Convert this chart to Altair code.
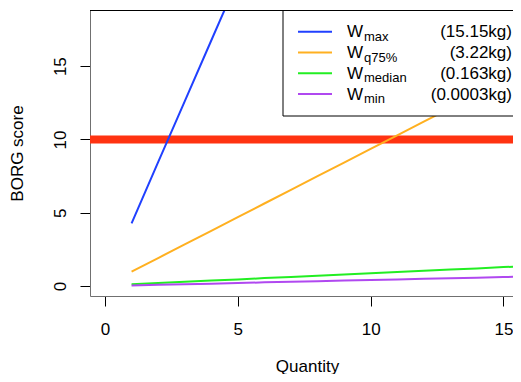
import altair as alt
import pandas as pd

# ---- data ----
quantity = list(range(1, 17))
w_max = [4.28, 8.45, 12.6, 16.75, 20.9]
w_q75 = [0.98, 1.91, 2.84, 3.77, 4.70, 5.63, 6.56, 7.49, 8.42, 9.35,
         10.28, 11.21, 12.14, 13.07, 14.00, 14.93]
w_median = [0.12, 0.20, 0.29, 0.37, 0.45, 0.54, 0.62, 0.70, 0.79, 0.87,
            0.95, 1.04, 1.12, 1.20, 1.29, 1.37]
w_min = [0.04, 0.08, 0.12, 0.16, 0.20, 0.25, 0.29, 0.33, 0.37, 0.41,
         0.45, 0.49, 0.53, 0.57, 0.61, 0.66]
threshold = [10]

series_names = ["W_max", "W_q75%", "W_median", "W_min"]
subscripts = ["max", "q75%", "median", "min"]
weights = ["(15.15kg)", "(3.22kg)", "(0.163kg)", "(0.0003kg)"]
colors = ["#2040FF", "#FFB020", "#22EE22", "#B048F0"]

x_ticks = [0, 5, 10, 15]
y_ticks = [0, 5, 10, 15]

FONT = "Liberation Sans"
W, H = 423, 286

rows = []
for name, vals in zip(series_names, [w_max, w_q75, w_median, w_min]):
    for q, v in zip(quantity, vals):
        rows.append({"series": name, "quantity": q, "borg": v})
df = pd.DataFrame(rows)

color_scale = alt.Scale(domain=series_names, range=colors)
x_scale = alt.Scale(domain=[-0.565, 15.36], nice=False, zero=False)
y_scale = alt.Scale(domain=[-0.68, 18.83], nice=False, zero=False)

base_x = alt.X("quantity:Q", scale=x_scale,
               axis=alt.Axis(values=x_ticks, title="Quantity", grid=False,
                             domainColor="#707070", tickColor="black", tickSize=10,
                             labelFontSize=17, labelFont=FONT, labelPadding=15,
                             labelColor="black", labelFlush=False,
                             titleFontSize=17, titleFont=FONT, titleFontWeight="normal",
                             titleColor="black", titleY=75, titleX=217,
                             titleBaseline="alphabetic", titleAlign="center"))
base_y = alt.Y("borg:Q", scale=y_scale,
               axis=alt.Axis(values=y_ticks, title="BORG score", grid=False,
                             domainColor="#707070", tickColor="black", tickSize=10,
                             labelFontSize=17, labelFont=FONT, labelPadding=15,
                             labelAngle=270, labelAlign="center", labelBaseline="alphabetic",
                             labelColor="black", labelFlush=False,
                             titleFontSize=17, titleFont=FONT, titleFontWeight="normal",
                             titleColor="black", titleAngle=270, titleBaseline="alphabetic",
                             titleX=-67.5))

lines = alt.Chart(df).mark_line(clip=True, strokeWidth=2).encode(
    x=base_x, y=base_y,
    color=alt.Color("series:N", scale=color_scale, legend=None),
    order=alt.Order("quantity:Q"),
)

red = alt.Chart(pd.DataFrame({"borg": threshold})).mark_rule(
    color="#FF3311", strokeWidth=8, clip=True).encode(y=alt.Y("borg:Q", scale=y_scale))

one = pd.DataFrame({"a": [0]})
top_border = alt.Chart(one).mark_rule(color="black", strokeWidth=1).encode(
    x=alt.value(0), x2=alt.value(W + 20), y=alt.value(0.5))

legend_box = alt.Chart(one).mark_rect(fill="white", stroke="black", strokeWidth=1).encode(
    x=alt.value(193), x2=alt.value(W + 30), y=alt.value(0.5), y2=alt.value(106))

leg = pd.DataFrame({"series": series_names, "sub": subscripts, "weight": weights,
                    "idx": list(range(len(series_names)))})
leg["ly"] = 21.7 + 20.8 * leg["idx"]
leg["ty"] = leg["ly"] + 5.5
leg["sy"] = leg["ly"] + 9
leg["W"] = "W"

leg_lines = alt.Chart(leg).mark_rule(strokeWidth=2).encode(
    x=alt.value(208), x2=alt.value(242), y=alt.Y("ly:Q", scale=None),
    color=alt.Color("series:N", scale=color_scale, legend=None))
leg_w = alt.Chart(leg).mark_text(align="left", baseline="alphabetic", fontSize=17,
                                 font=FONT, color="black").encode(
    x=alt.value(257), y=alt.Y("ty:Q", scale=None), text="W:N")
leg_sub = alt.Chart(leg).mark_text(align="left", baseline="alphabetic", fontSize=13,
                                   font=FONT, color="black").encode(
    x=alt.value(274), y=alt.Y("sy:Q", scale=None), text="sub:N")
leg_wt = alt.Chart(leg).mark_text(align="right", baseline="alphabetic", fontSize=17,
                                  font=FONT, color="black").encode(
    x=alt.value(422), y=alt.Y("ty:Q", scale=None), text="weight:N")

chart = alt.layer(red, lines, top_border, legend_box, leg_lines, leg_w, leg_sub, leg_wt).properties(
    width=W, height=H,
    autosize=alt.AutoSizeParams(type="none"),
    padding={"left": 82, "top": 2, "right": 0, "bottom": 78},
    background="white",
).configure_view(stroke=None)

chart.save("out.html", embed_options={"renderer": "svg", "actions": False})
